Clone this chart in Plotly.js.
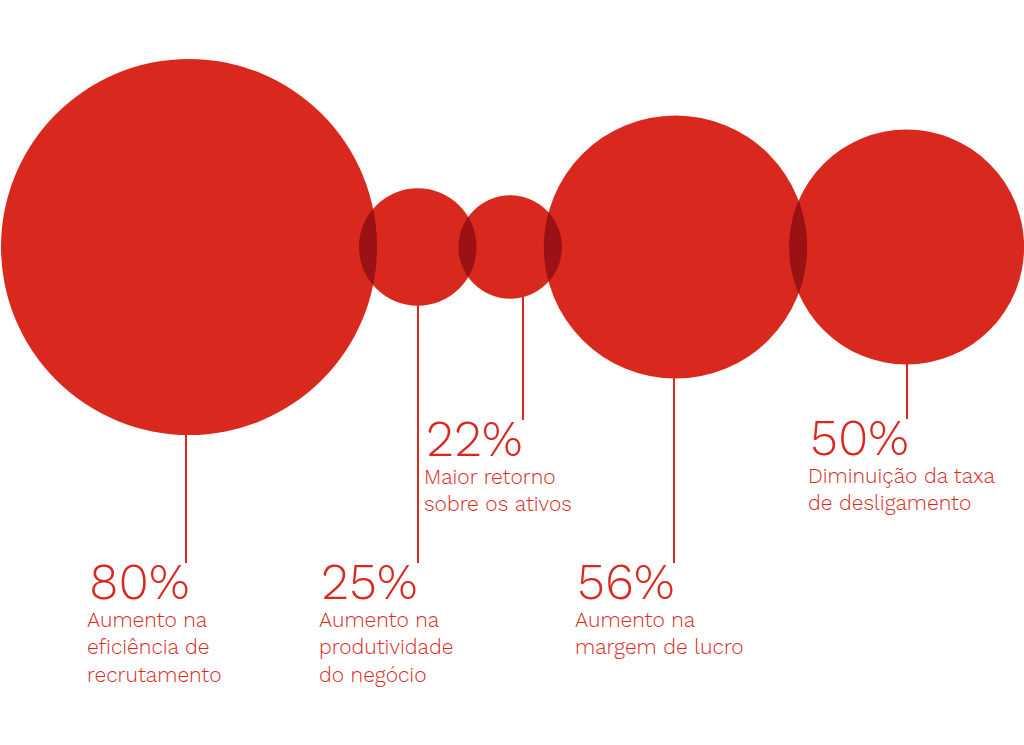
<!DOCTYPE html>
<html>
<head>
<meta charset="utf-8">
<script src="https://cdn.plot.ly/plotly-3.0.1.min.js"></script>
<style>html,body{margin:0;padding:0;background:#fff;}#chart{width:1024px;height:745px;}</style>
</head>
<body>
<div id="chart"></div>
<script>
// ---- data ----
const values = [80, 25, 22, 56, 50];
const valueLabels = ["80%", "25%", "22%", "56%", "50%"];
const descriptions = [
  "Aumento na<br>eficiência de<br>recrutamento",
  "Aumento na<br>produtividade<br>do negócio",
  "Maior retorno<br>sobre os ativos",
  "Aumento na<br>margem de lucro",
  "Diminuição da taxa<br>de desligamento"
];

// ---- layout / style constants ----
const RED = "#D9291E";
const DARK = "#9B1114";
const FONT = "Work Sans, Inter, Lato, sans-serif";
const pxPerUnit = 2.35;      // circle radius per percentage point
const overlap = 18;          // horizontal overlap between neighbouring circles
const startX = 1;
const centerY = 247;
const labelX = [90, 322, 427, 578, 811];   // left edge of each label
const labelTop = [565, 565, 422, 565, 421]; // top of the big number
const lineDX = 96;           // connector x relative to label left

// circle geometry from values
const radii = values.map(v => v * pxPerUnit);
const cx = [];
radii.forEach((r, i) => {
  if (i === 0) cx.push(startX + r);
  else cx.push(cx[i-1] + radii[i-1] + r - overlap);
});

const shapes = [];
// circles
radii.forEach((r, i) => {
  shapes.push({type: "circle", xref: "x", yref: "y",
    x0: cx[i]-r, x1: cx[i]+r, y0: centerY-r, y1: centerY+r,
    fillcolor: RED, line: {width: 0}, layer: "below"});
});
// overlapping lenses
for (let i = 0; i < radii.length-1; i++) {
  const r1 = radii[i], r2 = radii[i+1], d = cx[i+1]-cx[i];
  const a = (d*d + r1*r1 - r2*r2) / (2*d);
  const h = Math.sqrt(Math.max(r1*r1 - a*a, 0));
  const t1 = Math.atan2(h, a), t2 = Math.atan2(h, d - a);
  const pts = [];
  const N = 40;
  for (let k = 0; k <= N; k++) {
    const t = -t1 + 2*t1*k/N;
    pts.push([cx[i] + r1*Math.cos(t), centerY + r1*Math.sin(t)]);
  }
  for (let k = 0; k <= N; k++) {
    const t = Math.PI - t2 + 2*t2*k/N;
    pts.push([cx[i+1] + r2*Math.cos(-t + 2*Math.PI), centerY + r2*Math.sin(-t + 2*Math.PI)]);
  }
  const path = "M" + pts.map(p => p[0].toFixed(2) + "," + p[1].toFixed(2)).join("L") + "Z";
  shapes.push({type: "path", xref: "x", yref: "y", path: path,
    fillcolor: DARK, line: {width: 0}, layer: "below"});
}
// connector lines
values.forEach((v, i) => {
  const lx = labelX[i] + lineDX;
  const dx = lx - cx[i];
  const yStart = centerY + Math.sqrt(Math.max(radii[i]*radii[i] - dx*dx, 0)) - 1;
  shapes.push({type: "line", xref: "x", yref: "y",
    x0: lx, x1: lx, y0: yStart, y1: labelTop[i] - 2,
    line: {color: RED, width: 2}});
});

const annotations = [];
values.forEach((v, i) => {
  annotations.push({x: labelX[i] - 3, y: labelTop[i] - 15, xref: "x", yref: "y",
    xanchor: "left", yanchor: "top", showarrow: false, align: "left",
    height: 50, valign: "top",
    text: valueLabels[i], font: {family: FONT, size: 50, color: RED, weight: 300}});
  annotations.push({x: labelX[i] - 5, y: labelTop[i] + 40, xref: "x", yref: "y",
    xanchor: "left", yanchor: "top", showarrow: false, align: "left",
    text: descriptions[i], font: {family: FONT, size: 21, color: RED, weight: 300}});
});

const layout = {
  width: 1024, height: 745,
  margin: {l: 0, r: 0, t: 0, b: 0},
  paper_bgcolor: "#fff", plot_bgcolor: "#fff",
  showlegend: false,
  xaxis: {range: [0, 1024], visible: false, fixedrange: true},
  yaxis: {range: [745, 0], visible: false, fixedrange: true},
  shapes: shapes,
  annotations: annotations
};

Plotly.newPlot("chart", [{x: [], y: [], type: "scatter", hoverinfo: "skip"}], layout, {staticPlot: true, displayModeBar: false});
</script>
</body>
</html>
